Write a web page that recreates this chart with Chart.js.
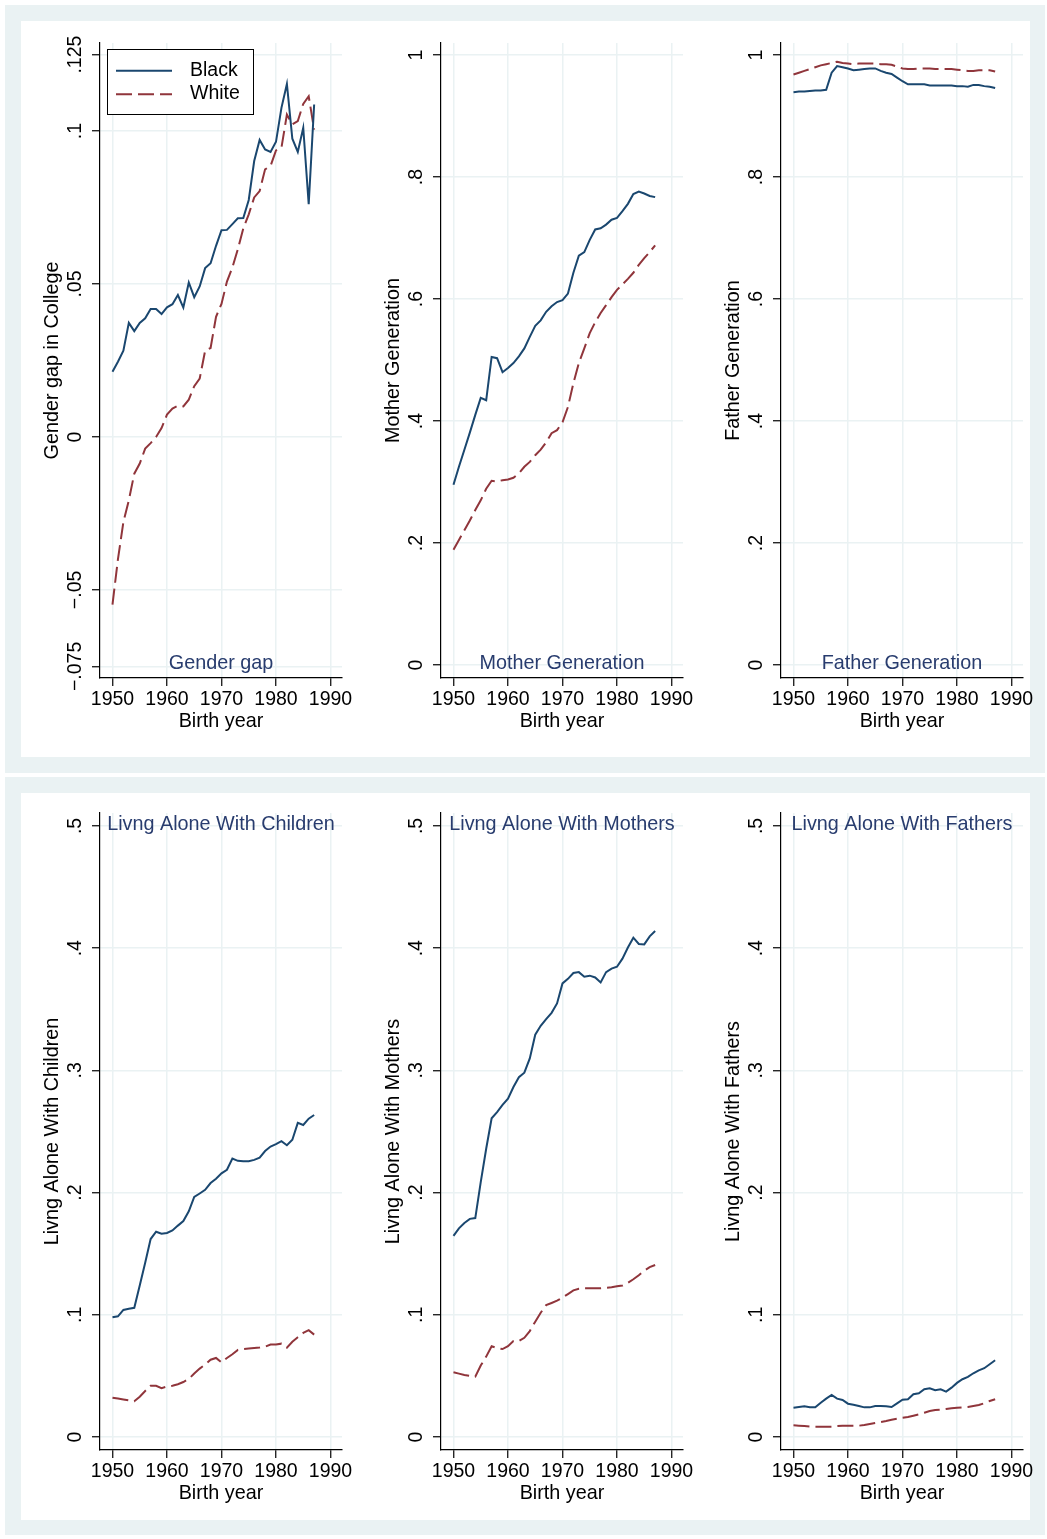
<!DOCTYPE html>
<html>
<head>
<meta charset="utf-8">
<script src="https://cdn.jsdelivr.net/npm/chart.js@4.4.1/dist/chart.umd.min.js"></script>
<style>
  body { margin: 0; width: 1047px; height: 1539px; background: #fff; position: relative; overflow: hidden; }
  .region { position: absolute; left: 5px; width: 1040px; background: #eaf2f3; }
  .plot { position: absolute; left: 16px; top: 16px; width: 1009px; background: #fff; }
  canvas { position: absolute; }
</style>
</head>
<body>
<div class="region" style="top:5px;height:768px"><div class="plot" style="height:736px"></div></div>
<div class="region" style="top:777px;height:758px"><div class="plot" style="height:727px"></div></div>
<canvas id="gap"></canvas>
<canvas id="mother"></canvas>
<canvas id="father"></canvas>
<canvas id="children"></canvas>
<canvas id="mothers"></canvas>
<canvas id="fathers"></canvas>
<script>
const YEARS = [
  1950, 1951, 1952, 1953, 1954, 1955, 1956, 1957, 1958, 1959,
  1960, 1961, 1962, 1963, 1964, 1965, 1966, 1967, 1968, 1969,
  1970, 1971, 1972, 1973, 1974, 1975, 1976, 1977, 1978, 1979,
  1980, 1981, 1982, 1983, 1984, 1985, 1986, 1987,
]

const GAP_BLACK = [
  0.0213, 0.0246, 0.0282, 0.0373, 0.0346, 0.0373, 0.0388, 0.0418, 0.0418, 0.0402,
  0.0424, 0.0434, 0.0464, 0.0423, 0.0505, 0.0457, 0.0492, 0.0552, 0.0568, 0.0625,
  0.0676, 0.0677, 0.0696, 0.0715, 0.0716, 0.0775, 0.0902, 0.0971, 0.0940, 0.0932,
  0.0965, 0.1076, 0.1154, 0.0975, 0.0932, 0.1011, 0.0761, 0.1087,
]
const GAP_WHITE = [
  -0.0548, -0.0400, -0.0278, -0.0207, -0.0120, -0.0087, -0.0038, -0.0020, 0.0000, 0.0029,
  0.0073, 0.0093, 0.0102, 0.0100, 0.0122, 0.0166, 0.0191, 0.0282, 0.0291, 0.0393,
  0.0435, 0.0508, 0.0554, 0.0614, 0.0682, 0.0728, 0.0783, 0.0804, 0.0875, 0.0886,
  0.0937, 0.0946, 0.1054, 0.1022, 0.1033, 0.1089, 0.1114, 0.1005,
]

const MOTHER_BLACK = [
  0.2955, 0.325, 0.353, 0.381, 0.410, 0.438, 0.434, 0.505, 0.503, 0.480,
  0.487, 0.495, 0.506, 0.519, 0.538, 0.556, 0.565, 0.579, 0.588, 0.595,
  0.598, 0.609, 0.643, 0.671, 0.677, 0.697, 0.714, 0.716, 0.722, 0.730,
  0.733, 0.744, 0.756, 0.772, 0.776, 0.773, 0.769, 0.767,
]
const MOTHER_WHITE = [
  0.189, 0.205, 0.221, 0.237, 0.254, 0.270, 0.289, 0.302, 0.301, 0.303,
  0.304, 0.307, 0.314, 0.325, 0.333, 0.344, 0.353, 0.365, 0.380, 0.385,
  0.398, 0.423, 0.462, 0.495, 0.519, 0.544, 0.562, 0.577, 0.590, 0.603,
  0.615, 0.624, 0.633, 0.643, 0.656, 0.667, 0.677, 0.688,
]

const FATHER_BLACK = [
  0.939, 0.940, 0.940, 0.941, 0.942, 0.942, 0.943, 0.971, 0.982, 0.980,
  0.978, 0.975, 0.976, 0.977, 0.978, 0.978, 0.974, 0.971, 0.969, 0.963,
  0.957, 0.952, 0.952, 0.952, 0.952, 0.950, 0.950, 0.950, 0.950, 0.950,
  0.949, 0.949, 0.948, 0.951, 0.951, 0.949, 0.948, 0.946,
]
const FATHER_WHITE = [
  0.968, 0.971, 0.974, 0.977, 0.980, 0.983, 0.985, 0.987, 0.989, 0.987,
  0.986, 0.985, 0.986, 0.986, 0.986, 0.986, 0.985, 0.985, 0.984, 0.981,
  0.978, 0.977, 0.977, 0.978, 0.978, 0.978, 0.977, 0.977, 0.977, 0.977,
  0.976, 0.975, 0.974, 0.974, 0.975, 0.975, 0.975, 0.973,
]

const CHILD_BLACK = [
  0.098, 0.0988, 0.104, 0.105, 0.1057, 0.124, 0.1426, 0.162, 0.168, 0.1664,
  0.167, 0.169, 0.173, 0.1767, 0.1847, 0.1964, 0.1993, 0.2023, 0.2078, 0.2114,
  0.2158, 0.2187, 0.2279, 0.226, 0.2257, 0.2257, 0.2268, 0.2286, 0.234, 0.2377,
  0.2396, 0.2421, 0.2388, 0.2432, 0.2571, 0.2553, 0.2605, 0.2635,
]
const CHILD_WHITE = [
  0.0322, 0.0315, 0.0307, 0.030, 0.0293, 0.033, 0.0377, 0.042, 0.042, 0.040,
  0.0413, 0.042, 0.0432, 0.045, 0.0475, 0.052, 0.056, 0.0593, 0.0633, 0.0647,
  0.061, 0.0647, 0.0677, 0.0713, 0.072, 0.0724, 0.0728, 0.0732, 0.0739, 0.0757,
  0.0757, 0.0764, 0.0732, 0.078, 0.0816, 0.0852, 0.0874, 0.0838,
]

const MOTHERS_BLACK = [
  0.1646, 0.1708, 0.1752, 0.1785, 0.1792, 0.2085, 0.2359, 0.2608, 0.2659, 0.2718,
  0.2769, 0.2864, 0.2944, 0.2981, 0.3098, 0.3292, 0.3365, 0.342, 0.3471, 0.3548,
  0.3712, 0.3749, 0.3797, 0.3804, 0.3767, 0.3775, 0.376, 0.372, 0.3804, 0.3833,
  0.3848, 0.3914, 0.4005, 0.4086, 0.4034, 0.4031, 0.4097, 0.414,
]
const MOTHERS_WHITE = [
  0.053, 0.0519, 0.0508, 0.0501, 0.0494, 0.0585, 0.0658, 0.0743, 0.0728, 0.072,
  0.0743, 0.0786, 0.0786, 0.0812, 0.0867, 0.0944, 0.1017, 0.1079, 0.1097, 0.1116,
  0.1141, 0.117, 0.120, 0.1214, 0.1218, 0.1218, 0.1218, 0.1218, 0.1222, 0.1225,
  0.1233, 0.124, 0.1262, 0.1291, 0.1324, 0.1361, 0.139, 0.1408,
]

const FATHERS_BLACK = [
  0.024, 0.0246, 0.0251, 0.0243, 0.0243, 0.0281, 0.0314, 0.0344, 0.0314, 0.0303,
  0.0273, 0.0265, 0.0254, 0.0243, 0.0243, 0.0254, 0.0254, 0.0251, 0.0246, 0.0276,
  0.0306, 0.0309, 0.035, 0.0358, 0.0391, 0.0399, 0.0383, 0.0391, 0.0372, 0.0404,
  0.0443, 0.0473, 0.0492, 0.0522, 0.0546, 0.0563, 0.0596, 0.0628,
]
const FATHERS_WHITE = [
  0.0096, 0.0093, 0.009, 0.0087, 0.0085, 0.0085, 0.0085, 0.0085, 0.009, 0.0093,
  0.0093, 0.0093, 0.0093, 0.0098, 0.0107, 0.0115, 0.0123, 0.0131, 0.0142, 0.015,
  0.0158, 0.0164, 0.0175, 0.0186, 0.0199, 0.0213, 0.0221, 0.0224, 0.023, 0.0235,
  0.024, 0.0243, 0.0246, 0.0254, 0.0262, 0.0276, 0.0295, 0.0309,
]

const YEAR_TICKS = [1950, 1960, 1970, 1980, 1990]
const GAP_TICKS = [-0.075, -0.05, 0, 0.05, 0.1, 0.125]
const GEN_TICKS = [0, 0.2, 0.4, 0.6, 0.8, 1]
const ALONE_TICKS = [0, 0.1, 0.2, 0.3, 0.4, 0.5]

const NAVY = "#1a476f"
const MAROON = "#90353b"
const NOTE_BLUE = "#283c6e"
const GRID = "#eaf2f3"
const FONT = "'Liberation Sans', Arial, Helvetica, sans-serif"
const TICK_SIZE = 19.5
const TITLE_SIZE = 19.8

Chart.defaults.font.family = FONT
Chart.defaults.font.size = TICK_SIZE
Chart.defaults.color = "#000"

// canvas margins around the plot region
const Y_W = 80
const X_H = 62
const PAD_T = 22
const PAD_R = 14

// Stata style labels: .125, -.05, 0, 1
const stataLabel = (v) => {
  if (v === 0) return "0"
  const s = String(Math.abs(v)).replace(/^0/, "")
  return v < 0 ? "\u2212" + s : s
}

const measurer = document.createElement("canvas").getContext("2d")
measurer.font = `${TICK_SIZE}px ${FONT}`
const widestLabel = (ticks) => Math.max(...ticks.map((t) => measurer.measureText(stataLabel(t)).width))

const chartNote = {
  id: "chartNote",
  afterDraw: (chart, args, opts) => {
    if (!opts.text) return
    const { ctx, chartArea } = chart
    const y = opts.place === "top" ? chartArea.top + opts.offset : chartArea.bottom - opts.offset

    ctx.save()
    ctx.font = `${TITLE_SIZE}px ${FONT}`
    ctx.fillStyle = NOTE_BLUE
    ctx.textAlign = "center"
    ctx.textBaseline = "middle"
    ctx.fillText(opts.text, (chartArea.left + chartArea.right) / 2, y)
    ctx.restore()
  },
}

const legendBox = {
  id: "legendBox",
  afterDraw: (chart, args, opts) => {
    if (!opts.show) return
    const { ctx, chartArea } = chart
    const x = chartArea.left + opts.x
    const y = chartArea.top + opts.y

    ctx.save()
    ctx.fillStyle = "#fff"
    ctx.fillRect(x, y, opts.width, opts.height)
    ctx.strokeStyle = "#000"
    ctx.lineWidth = 1
    ctx.strokeRect(x + 0.5, y + 0.5, opts.width, opts.height)

    chart.data.datasets.forEach((ds, i) => {
      const rowY = y + opts.rows[i]
      ctx.beginPath()
      ctx.setLineDash(ds.borderDash || [])
      ctx.strokeStyle = ds.borderColor
      ctx.lineWidth = ds.borderWidth
      ctx.moveTo(x + opts.lineFrom, rowY)
      ctx.lineTo(x + opts.lineTo, rowY)
      ctx.stroke()

      ctx.setLineDash([])
      ctx.font = `${TICK_SIZE}px ${FONT}`
      ctx.fillStyle = "#000"
      ctx.textBaseline = "middle"
      ctx.fillText(ds.label, x + opts.textX, rowY - 0.5)
    })
    ctx.restore()
  },
}

Chart.register(chartNote, legendBox)

const series = (label, values, color, dash) => ({
  label: label,
  data: YEARS.map((year, i) => ({ x: year, y: values[i] })),
  borderColor: color,
  borderWidth: 2,
  borderDash: dash,
  pointRadius: 0,
  tension: 0,
  fill: false,
})

const makeChart = (spec) => {
  const canvas = document.getElementById(spec.id)
  const plotW = 242
  const plotH = spec.bottom - spec.top
  const w = plotW + Y_W + PAD_R
  const h = plotH + PAD_T + X_H

  canvas.width = w
  canvas.height = h
  canvas.style.width = w + "px"
  canvas.style.height = h + "px"
  canvas.style.left = spec.left - Y_W + "px"
  canvas.style.top = spec.top - PAD_T + "px"

  const yPadding = 16.5 - widestLabel(spec.yTicks) / 2

  new Chart(canvas, {
    type: "line",
    data: {
      datasets: [
        series("Black", spec.black, NAVY, []),
        series("White", spec.white, MAROON, [16, 6]),
      ],
    },
    options: {
      animation: false,
      responsive: false,
      events: [],
      layout: { padding: { left: 0, top: PAD_T, right: PAD_R, bottom: 0 } },
      plugins: {
        legend: { display: false },
        tooltip: { enabled: false },
        chartNote: { text: spec.note, place: spec.notePlace, offset: spec.noteOffset },
        legendBox: spec.legend || { show: false },
      },
      scales: {
        x: {
          type: "linear",
          min: 1947.71,
          max: 1992.11,
          afterBuildTicks: (scale) => {
            scale.ticks = YEAR_TICKS.map((value) => ({ value }))
          },
          afterFit: (scale) => {
            scale.height = X_H
          },
          grid: { color: GRID, lineWidth: 1.5, tickLength: 8, tickColor: "#000", tickWidth: 1.2 },
          border: { color: "#000", width: 1.2 },
          ticks: {
            autoSkip: false,
            maxRotation: 0,
            padding: 2,
            callback: (value) => String(value),
          },
          title: {
            display: true,
            text: "Birth year",
            font: { size: TITLE_SIZE },
            padding: { top: 0, bottom: 6.3 },
          },
        },
        y: {
          type: "linear",
          min: spec.yMin,
          max: spec.yMax,
          afterBuildTicks: (scale) => {
            scale.ticks = spec.yTicks.map((value) => ({ value }))
          },
          afterFit: (scale) => {
            scale.width = Y_W
          },
          grid: { color: GRID, lineWidth: 1.5, tickLength: 8, tickColor: "#000", tickWidth: 1.2 },
          border: { color: "#000", width: 1.2 },
          ticks: {
            minRotation: 90,
            maxRotation: 90,
            crossAlign: "center",
            padding: yPadding,
            callback: (value) => stataLabel(value),
          },
          title: {
            display: true,
            text: spec.yTitle,
            font: { size: TITLE_SIZE },
            padding: { top: 20.6, bottom: 0 },
          },
        },
      },
    },
  })
}

const TOP = { top: 43, bottom: 678, notePlace: "bottom", noteOffset: 14 }
const BOTTOM = { top: 813, bottom: 1450, notePlace: "top", noteOffset: 12, yMin: -0.0106, yMax: 0.5106, yTicks: ALONE_TICKS }

makeChart({
  ...TOP, id: "gap", left: 100,
  yMin: -0.0788, yMax: 0.1288, yTicks: GAP_TICKS,
  yTitle: "Gender gap in College", note: "Gender gap",
  black: GAP_BLACK, white: GAP_WHITE,
  legend: { show: true, x: 7, y: 6, width: 146, height: 65, lineFrom: 9, lineTo: 65, textX: 83, rows: [21.7, 45.3] },
})
makeChart({
  ...TOP, id: "mother", left: 441,
  yMin: -0.0213, yMax: 1.0197, yTicks: GEN_TICKS,
  yTitle: "Mother Generation", note: "Mother Generation",
  black: MOTHER_BLACK, white: MOTHER_WHITE,
})
makeChart({
  ...TOP, id: "father", left: 781,
  yMin: -0.0213, yMax: 1.0197, yTicks: GEN_TICKS,
  yTitle: "Father Generation", note: "Father Generation",
  black: FATHER_BLACK, white: FATHER_WHITE,
})
makeChart({
  ...BOTTOM, id: "children", left: 100,
  yTitle: "Livng Alone With Children", note: "Livng Alone With Children",
  black: CHILD_BLACK, white: CHILD_WHITE,
})
makeChart({
  ...BOTTOM, id: "mothers", left: 441,
  yTitle: "Livng Alone With Mothers", note: "Livng Alone With Mothers",
  black: MOTHERS_BLACK, white: MOTHERS_WHITE,
})
makeChart({
  ...BOTTOM, id: "fathers", left: 781,
  yTitle: "Livng Alone With Fathers", note: "Livng Alone With Fathers",
  black: FATHERS_BLACK, white: FATHERS_WHITE,
})
</script>
</body>
</html>
